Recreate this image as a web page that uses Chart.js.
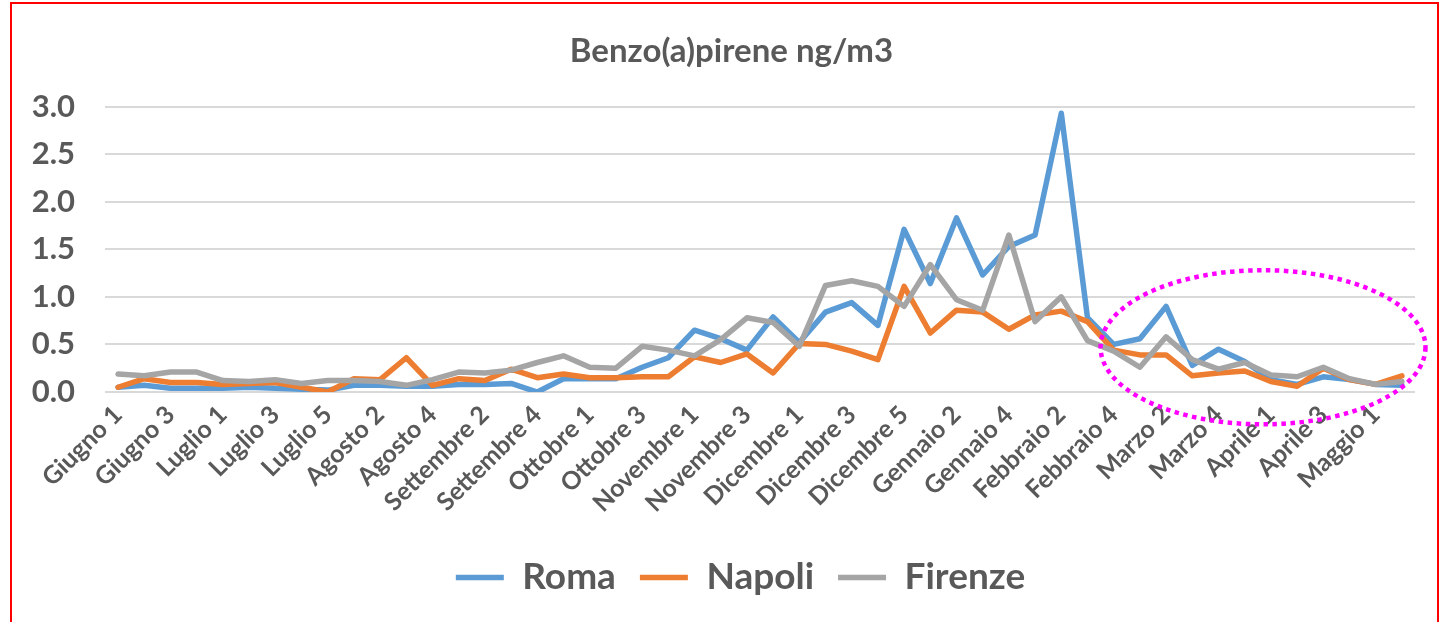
<!DOCTYPE html>
<html>
<head>
<meta charset="utf-8">
<title>Benzo(a)pirene ng/m3</title>
<script src="https://cdn.jsdelivr.net/npm/chart.js@4.4.1/dist/chart.umd.min.js"></script>
<style>
  html, body { margin: 0; padding: 0; background: #fff; overflow: hidden; }
  #wrap { position: absolute; left: 0; top: 0; width: 1439px; height: 622px; }
  #frame {
    position: absolute; left: 10px; top: 2px; width: 1425px; height: 700px;
    border: 2px solid #ff0000; pointer-events: none;
  }
</style>
</head>
<body>
<div id="wrap"><canvas id="chart"></canvas></div>
<div id="frame"></div>
<script>
// weeks, June to May
const weeks = [
  "Giugno 1", "Giugno 2", "Giugno 3", "Giugno 4",
  "Luglio 1", "Luglio 2", "Luglio 3", "Luglio 4", "Luglio 5",
  "Agosto 1", "Agosto 2", "Agosto 3", "Agosto 4",
  "Settembre 1", "Settembre 2", "Settembre 3", "Settembre 4", "Settembre 5",
  "Ottobre 1", "Ottobre 2", "Ottobre 3", "Ottobre 4",
  "Novembre 1", "Novembre 2", "Novembre 3", "Novembre 4",
  "Dicembre 1", "Dicembre 2", "Dicembre 3", "Dicembre 4", "Dicembre 5",
  "Gennaio 1", "Gennaio 2", "Gennaio 3", "Gennaio 4",
  "Febbraio 1", "Febbraio 2", "Febbraio 3", "Febbraio 4",
  "Marzo 1", "Marzo 2", "Marzo 3", "Marzo 4", "Marzo 5",
  "Aprile 1", "Aprile 2", "Aprile 3", "Aprile 4",
  "Maggio 1", "Maggio 2"
];

const roma = [
  0.05, 0.07, 0.04, 0.04, 0.04, 0.05, 0.04, 0.03, 0.02, 0.07,
  0.07, 0.06, 0.06, 0.08, 0.08, 0.09, 0.00, 0.14, 0.14, 0.14,
  0.26, 0.36, 0.65, 0.56, 0.44, 0.79, 0.52, 0.84, 0.94, 0.70,
  1.71, 1.14, 1.83, 1.23, 1.53, 1.65, 2.93, 0.78, 0.50, 0.56,
  0.90, 0.28, 0.45, 0.32, 0.13, 0.08, 0.16, 0.13, 0.08, 0.07
];

const napoli = [
  0.05, 0.14, 0.10, 0.10, 0.08, 0.09, 0.10, 0.05, 0.00, 0.14,
  0.13, 0.36, 0.07, 0.14, 0.12, 0.24, 0.15, 0.19, 0.15, 0.15,
  0.16, 0.16, 0.37, 0.31, 0.40, 0.20, 0.51, 0.50, 0.43, 0.34,
  1.11, 0.62, 0.86, 0.84, 0.66, 0.81, 0.85, 0.74, 0.44, 0.39,
  0.39, 0.17, 0.20, 0.22, 0.11, 0.06, 0.25, 0.13, 0.08, 0.17
];

const firenze = [
  0.19, 0.17, 0.21, 0.21, 0.12, 0.11, 0.13, 0.09, 0.12, 0.12,
  0.11, 0.07, 0.13, 0.21, 0.20, 0.23, 0.31, 0.38, 0.26, 0.25,
  0.48, 0.44, 0.38, 0.55, 0.78, 0.73, 0.48, 1.12, 1.17, 1.11,
  0.90, 1.34, 0.97, 0.86, 1.65, 0.74, 1.00, 0.54, 0.43, 0.26,
  0.58, 0.34, 0.24, 0.31, 0.18, 0.16, 0.26, 0.14, 0.08, 0.11
];

const yTicks = [0, 0.5, 1.0, 1.5, 2.0, 2.5, 3.0];

// dotted ring drawn around the last weeks (centre in week index / value units)
const ringCenter = [43.7, 0.47];
const ringRadius = [6.2, 0.81];

const textColor = '#595959';
const fontFamily = 'Lato, "Open Sans", sans-serif';

const ringPlugin = {
  id: 'ring',
  afterDatasetsDraw(chart) {
    const xs = chart.scales.x, ys = chart.scales.y;
    const cx = xs.getPixelForValue(ringCenter[0]);
    const cy = ys.getPixelForValue(ringCenter[1]);
    const rx = xs.getPixelForValue(ringCenter[0] + ringRadius[0]) - cx;
    const ry = cy - ys.getPixelForValue(ringCenter[1] + ringRadius[1]);
    const ctx = chart.ctx;
    ctx.save();
    ctx.strokeStyle = '#ff00ff';
    ctx.lineWidth = 4.5;
    ctx.setLineDash([4.5, 4.5]);
    ctx.beginPath();
    ctx.ellipse(cx, cy, rx, ry, 0, 0, Math.PI * 2);
    ctx.stroke();
    ctx.restore();
  }
};

// nudge title and legend a bit to the right, like the original
const centrePlugin = {
  id: 'centre',
  afterLayout(chart) {
    [[chart.titleBlock, 19], [chart.legend, 28]].forEach(([box, shift]) => {
      box.left += shift;
      box.right += shift;
    });
  }
};

function makeSet(label, data, color, order) {
  return {
    label: label,
    data: data,
    borderColor: color,
    backgroundColor: color,
    borderWidth: 5.5,
    pointRadius: 0,
    tension: 0,
    borderJoinStyle: 'round',
    borderCapStyle: 'round',
    order: order
  };
}

new Chart(document.getElementById('chart'), {
  type: 'line',
  data: {
    labels: weeks,
    datasets: [
      makeSet('Roma', roma, '#5b9bd5', 3),
      makeSet('Napoli', napoli, '#ed7d31', 2),
      makeSet('Firenze', firenze, '#a5a5a5', 1)
    ]
  },
  options: {
    responsive: true,
    maintainAspectRatio: false,
    animation: false,
    layout: { padding: { left: 10, right: 24, top: 0, bottom: 16 } },
    plugins: {
      title: {
        display: true,
        text: 'Benzo(a)pirene ng/m3',
        color: textColor,
        font: { family: fontFamily, size: 33, weight: 'bold' },
        padding: { top: 32, bottom: 35 }
      },
      legend: {
        position: 'bottom',
        labels: {
          color: textColor,
          font: { family: fontFamily, size: 37, weight: 'bold' },
          usePointStyle: true,
          pointStyle: 'line',
          pointStyleWidth: 48,
          padding: 24,
          sort: (a, b) => a.datasetIndex - b.datasetIndex
        }
      },
      tooltip: { enabled: false }
    },
    scales: {
      x: {
        offset: true,
        grid: { display: false, drawTicks: false },
        border: { display: false },
        ticks: {
          autoSkip: false,
          minRotation: 45,
          maxRotation: 45,
          padding: 8,
          color: textColor,
          font: { family: fontFamily, size: 25, weight: 'bold' },
          callback: function(v, i) { return i % 2 === 0 ? weeks[i] : ''; }
        },
        afterFit: function(scale) { scale.height = 143; }
      },
      y: {
        min: yTicks[0],
        max: yTicks[yTicks.length - 1],
        grid: { color: '#d9d9d9', lineWidth: 2, drawTicks: false },
        border: { display: false },
        ticks: {
          stepSize: 0.5,
          padding: 30,
          color: textColor,
          font: { family: fontFamily, size: 31, weight: 'bold' },
          callback: v => v.toFixed(1)
        },
        afterFit: function(scale) { scale.width = 95; }
      }
    }
  },
  plugins: [ringPlugin, centrePlugin]
});
</script>
</body>
</html>
